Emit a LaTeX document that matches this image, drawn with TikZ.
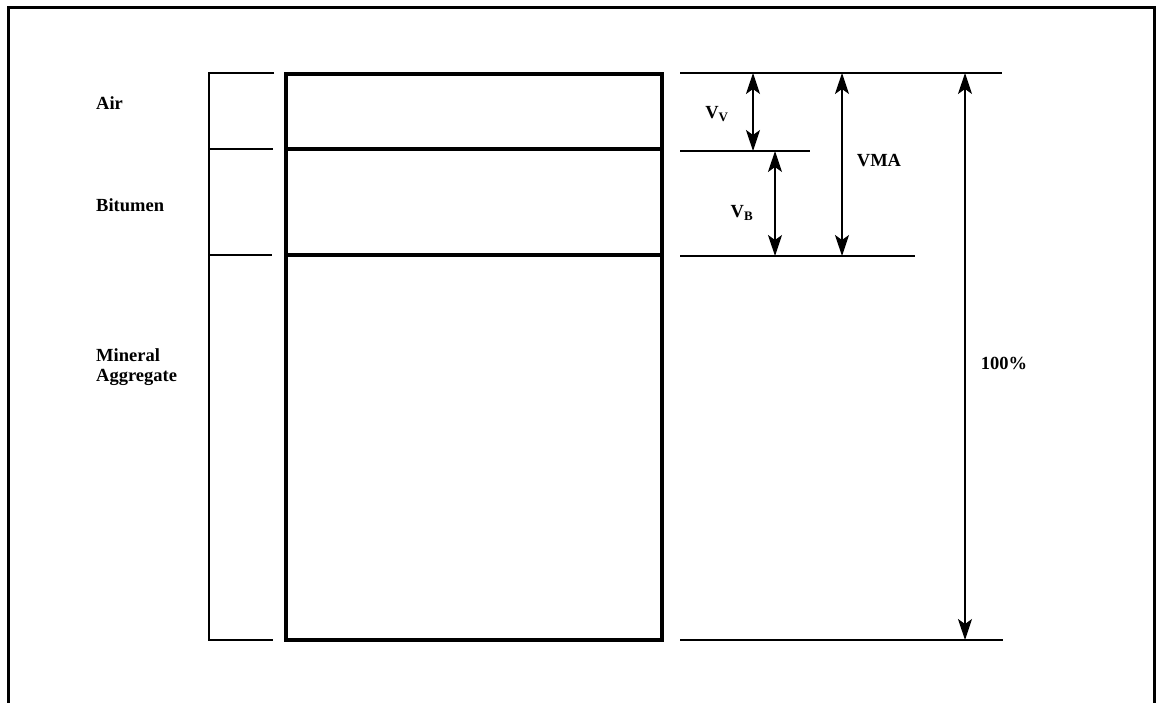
\documentclass[tikz,border=0pt]{standalone}
\usepackage{fontspec}
\setmainfont{Liberation Serif}
\usetikzlibrary{arrows.meta}
\begin{document}
\begin{tikzpicture}[x=1pt,y=-1pt,
  thin line/.style={line width=1.4pt},
  box line/.style={line width=4.4pt},
  dim/.style={line width=1.2pt,{Stealth[length=21pt,width=14pt,inset=5pt]}-{Stealth[length=21pt,width=14pt,inset=5pt]}},
  lab/.style={font=\fontsize{18.5}{20}\selectfont\bfseries, inner sep=0pt}]
\useasboundingbox (0,0) rectangle (1158,703);
\fill[white] (0,0) rectangle (1158,703);
% outer frame (open at the bottom)
\draw[line width=3pt] (8,712) -- (8,8) -- (1154,8) -- (1154,712);
% left bracket
\draw[thin line] (274,73) -- (209,73) -- (209,640) -- (273,640);
\draw[thin line] (209,149) -- (273,149);
\draw[thin line] (209,255) -- (272,255);
% main box
\draw[box line] (286,74) rectangle (662,640);
\draw[box line] (286,149) -- (662,149);
\draw[box line] (286,255) -- (662,255);
% right reference lines
\coordinate (t0) at (680,73);  \coordinate (t1) at (1002,73);
\coordinate (m0) at (680,151); \coordinate (m1) at (810,151);
\coordinate (b0) at (680,256); \coordinate (b1) at (915,256);
\coordinate (z0) at (680,640); \coordinate (z1) at (1003,640);
\draw[thin line] (t0) -- (t1);
\draw[thin line] (m0) -- (m1);
\draw[thin line] (b0) -- (b1);
\draw[thin line] (z0) -- (z1);
% dimension arrows
\coordinate (vvA) at (753,73);  \coordinate (vvB) at (753,151);
\coordinate (vbA) at (775,151); \coordinate (vbB) at (775,256);
\coordinate (vmA) at (842,73);  \coordinate (vmB) at (842,256);
\coordinate (hA) at (965,73);   \coordinate (hB) at (965,640);
\draw[dim] (vvA) -- (vvB);
\draw[dim] (vbA) -- (vbB);
\draw[dim] (vmA) -- (vmB);
\draw[dim] (hA) -- (hB);
% labels
\node[lab] (vv) at (717,114) {V\textsubscript{\fontsize{13}{13}\selectfont V}};
\node[lab] (vb) at (742,213) {V\textsubscript{\fontsize{13}{13}\selectfont B}};
\node[lab] (vma) at (879,161) {VMA};
\node[lab] (pct) at (1004,363) {100\%};
\node[lab,anchor=west] (air) at (96,103) {Air};
\node[lab,anchor=west] (bit) at (96,205) {Bitumen};
\node[lab,anchor=west,align=left] (min) at (96,367) {Mineral\\Aggregate};
\end{tikzpicture}
\end{document}
